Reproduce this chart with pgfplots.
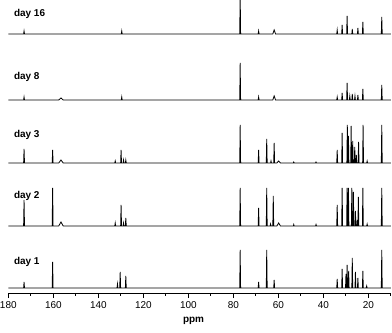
\documentclass[border=0pt]{standalone}
\usepackage{fontspec}
\setmainfont{Liberation Sans}
\usepackage{pgfplots}
\pgfplotsset{compat=1.18}
\begin{document}
\begin{tikzpicture}
\path[use as bounding box] (-8.3bp,-40bp) rectangle (383.7bp,293bp);
\begin{axis}[
  at={(0,0)}, anchor=south west, scale only axis,
  width=382.7bp, height=293bp,
  xmin=10, xmax=180, ymin=0, ymax=293, x dir=reverse,
  axis x line=bottom, axis y line=none,
  x axis line style={-, line width=1bp},
  xtick={20,40,...,180}, minor xtick={10,30,...,170},
  tick align=outside, major tick length=5bp, minor tick length=2.5bp,
  tick style={line width=1bp, black},
  ytick=\empty,
  xticklabel style={font=\fontsize{10}{12}\selectfont},
  /pgf/number format/assume math mode=true,
  clip mode=individual,
  spec/.style={black, line width=0.8bp, mark=none},
]
% day 1
\addplot[spec] table {
x y
180 5
173.2 5
173.0 11
172.8 5
160.5 5
160.3 31
160.1 5
131.7 5
131.5 9
131.3 5
130.5 5
130.3 21
130.1 5
128.0 5
127.8 17
127.6 5
77.2 5
77.0 43
76.8 5
69.0 5
68.8 11
68.6 5
65.4 5
65.2 43
65.0 5
62.1 5
61.9 13
61.7 5
34.1 5
33.9 14
33.7 5
31.9 5
31.7 24
31.5 5
30.2 5
30.0 19
29.8 5
29.7 5
29.5 28
29.3 5
29.0 5
28.8 22
28.6 5
27.4 5
27.2 35
27.0 5
26.0 5
25.8 21
25.6 5
24.9 5
24.7 15
24.5 5
22.7 5
22.5 22
22.3 5
21.0 5
20.8 7
20.6 5
14.3 5
14.1 43
13.9 5
10 5
};
% day 2
\addplot[spec] table {
x y
180 67
173.2 67
173.0 93
172.8 67
160.5 67
160.3 105
160.1 67
157.6 67
156.6 71
155.6 67
132.7 67
132.5 70
132.3 67
130.1 67
129.9 88
129.7 67
129.0 67
128.8 70
128.6 67
128.0 67
127.8 75
127.6 67
77.2 67
77.0 105
76.8 67
69.0 67
68.8 85
68.6 67
65.4 67
65.2 105
65.0 67
63.7 67
63.5 69
63.3 67
62.5 67
62.3 97
62.1 67
60.7 67
59.9 70
59.1 67
53.4 67
53.2 68.5
53.0 67
43.5 67
43.3 68.5
43.1 67
34.1 67
33.9 88
33.7 67
31.9 67
31.7 105
31.5 67
29.7 67
29.5 105
29.3 67
29.1 67
28.9 105
28.7 67
27.6 67
27.4 105
27.2 67
26.9 67
26.7 101
26.5 67
26.0 67
25.8 82
25.6 67
25.2 67
25.0 73
24.8 67
24.7 67
24.5 96
24.3 67
22.7 67
22.5 105
22.3 67
20.8 67
20.6 69
20.4 67
14.3 67
14.1 105
13.9 67
10 67
};
% day 3
\addplot[spec] table {
x y
180 130
173.2 130
173.0 144
172.8 130
160.5 130
160.3 143
160.1 130
157.6 130
156.6 133
155.6 130
132.7 130
132.5 132
132.3 130
130.1 130
129.9 143
129.7 130
129.0 130
128.8 133
128.6 130
128.0 130
127.8 133
127.6 130
77.2 130
77.0 168
76.8 130
69.0 130
68.8 143
68.6 130
65.4 130
65.2 154
65.0 130
63.5 130
63.3 132
63.1 130
62.1 130
61.9 150
61.7 130
60.7 130
59.9 132
59.1 130
53.4 130
53.2 131
53.0 130
43.5 130
43.3 131
43.1 130
34.1 130
33.9 143
33.7 130
31.9 130
31.7 160
31.5 130
29.6 130
29.4 168
29.2 130
29.1 130
28.9 157
28.7 130
27.9 130
27.7 167
27.5 130
27.2 130
27.0 152
26.8 130
26.3 130
26.1 146
25.9 130
25.6 130
25.4 138
25.2 130
24.6 130
24.4 151
24.2 130
22.6 130
22.4 168
22.2 130
20.8 130
20.6 132
20.4 130
14.3 130
14.1 168
13.9 130
10 130
};
% day 8
\addplot[spec] table {
x y
180 193
173.2 193
173.0 196
172.8 193
157.6 193
156.6 195
155.6 193
129.8 193
129.6 196
129.4 193
77.2 193
77.0 230
76.8 193
69.0 193
68.8 196
68.6 193
62.5 193
61.9 197
61.3 193
34.1 193
33.9 196
33.7 193
31.9 193
31.7 200
31.5 193
29.7 193
29.5 210
29.3 193
28.5 193
28.3 197
28.1 193
27.4 193
27.2 199
27.0 193
26.2 193
26.0 197
25.8 193
24.9 193
24.7 198
24.5 193
22.7 193
22.5 204
22.3 193
14.3 193
14.1 208
13.9 193
10 193
};
% day 16
\addplot[spec] table {
x y
180 259
173.2 259
173.0 262
172.8 259
129.8 259
129.6 262
129.4 259
77.2 259
77.0 300
76.8 259
69.0 259
68.8 262
68.6 259
62.5 259
61.9 263
61.3 259
34.1 259
33.9 263
33.7 259
31.9 259
31.7 268
31.5 259
29.7 259
29.5 277
29.3 259
27.4 259
27.2 264
27.0 259
24.9 259
24.7 265
24.5 259
22.7 259
22.5 271
22.3 259
14.3 259
14.1 276
13.9 259
10 259
};
\node[anchor=base west, font=\bfseries\fontsize{10}{12}\selectfont] at (axis cs:179,276.4) {day 16};
\node[anchor=base west, font=\bfseries\fontsize{10}{12}\selectfont] at (axis cs:179,213) {day 8};
\node[anchor=base west, font=\bfseries\fontsize{10}{12}\selectfont] at (axis cs:179,155) {day 3};
\node[anchor=base west, font=\bfseries\fontsize{10}{12}\selectfont] at (axis cs:179,94) {day 2};
\node[anchor=base west, font=\bfseries\fontsize{10}{12}\selectfont] at (axis cs:179,29) {day 1};
\node[anchor=base, font=\bfseries\fontsize{10}{12}\selectfont] at (axis cs:97.7,-29) {ppm};
\end{axis}
\end{tikzpicture}
\end{document}
